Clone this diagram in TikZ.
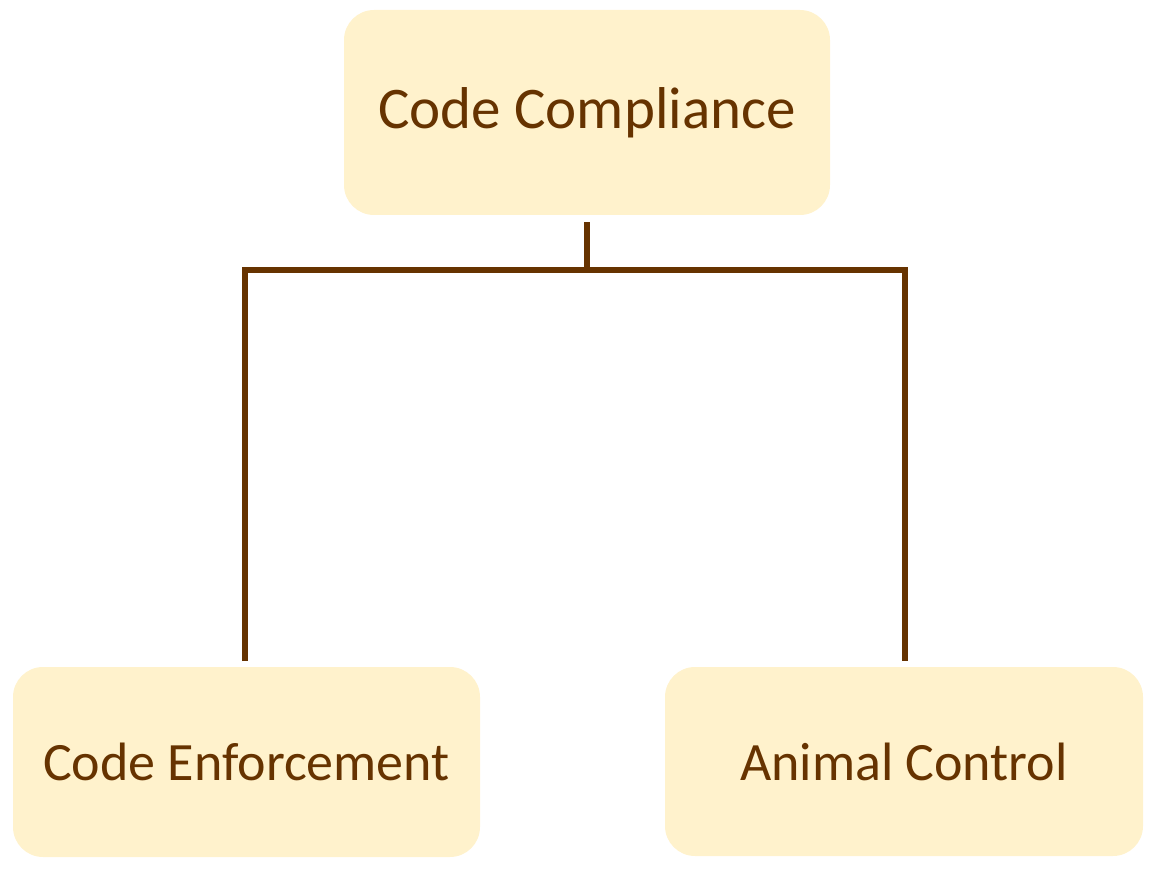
\documentclass[tikz,border=0pt]{standalone}
\usepackage{fontspec}
\setmainfont{Carlito}
\definecolor{boxfill}{HTML}{FFF2CC}
\definecolor{brown}{HTML}{663300}
\begin{document}
\begin{tikzpicture}[x=1pt,y=-1pt,
  box/.style={fill=boxfill,draw=none,rounded corners=30pt,text=brown,align=center,inner sep=0pt},
  conn/.style={draw=brown,line width=5.5pt,line join=miter}]
\useasboundingbox (0,0) rectangle (1156,882);
\node[box,minimum width=486pt,minimum height=205pt,font=\fontsize{59}{70}\selectfont] (top) at (587,112.5) {Code Compliance};
\node[box,minimum width=467pt,minimum height=190pt,font=\fontsize{54}{64}\selectfont] (left) at (246.5,762) {Code Enforcement};
\node[box,minimum width=478pt,minimum height=189pt,font=\fontsize{54}{64}\selectfont] (right) at (904,761.5) {Animal Control};
\coordinate (s) at ([yshift=-7pt]top.south);
\coordinate (j) at (s |- 0,270);
\coordinate (jl) at (245,270);
\coordinate (jr) at (905,270);
\coordinate (el) at (245,661);
\coordinate (er) at (905,661);
\draw[conn] (s) -- (j);
\draw[conn] (el) -- (jl) -- (jr) -- (er);
\end{tikzpicture}
\end{document}
